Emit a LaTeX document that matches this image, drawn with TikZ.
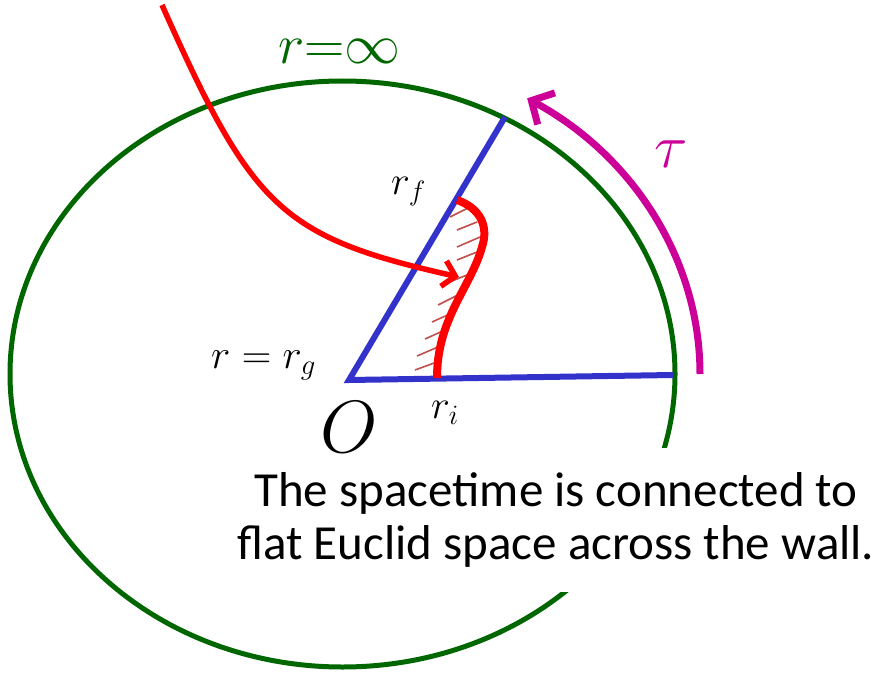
\RequirePackage{fix-cm}
\documentclass[tikz,border=0pt]{standalone}
\usepackage{fontspec}
\newfontfamily\calib{Carlito}
\usetikzlibrary{arrows.meta}
\definecolor{wallgreen}{RGB}{0,102,0}
\definecolor{rayblue}{RGB}{51,51,204}
\definecolor{taumag}{RGB}{204,0,153}
\definecolor{hatchred}{RGB}{192,80,77}
\newcommand{\fsz}[1]{\fontsize{#1}{#1}\selectfont}
\tikzset{
  wall/.style={draw=wallgreen, line width=5pt},
  ray/.style={draw=rayblue, line width=6pt, line join=miter},
  path/.style={draw=red, line width=5.5pt, -{Straight Barb[length=12pt,width=26pt]}},
  shell/.style={draw=red, line width=8pt},
  hatch/.style={draw=hatchred, line width=1.6pt},
  tauarrow/.style={draw=taumag, line width=7pt, -{Straight Barb[length=17pt,width=36pt]}},
  lab/.style={inner sep=0pt, anchor=base west},
}
\begin{document}
\begin{tikzpicture}[x=1pt,y=-1pt]
\useasboundingbox (0,0) rectangle (875,674);
% outer boundary r = infinity
\draw[wall] (342.5,374) ellipse[x radius=332.5, y radius=293];
% text with white background
\node[fill=white, minimum width=630pt, minimum height=144pt, align=center,
      font=\calib\fontsize{49}{53}\selectfont, inner sep=0pt] (txt) at (556,520)
  {The spacetime is connected to\\flat Euclid space across the wall.};
% blue rays
\coordinate (O) at (349,380);
\coordinate (A) at (673,375);
\coordinate (B) at (505,117);
\draw[ray] (B) -- (O) -- (A);
% hatches
\foreach \xa/\ya/\xb/\yb in {468/208/450/217, 477/222/457/230, 480/237/457/247,
   477/252/457/260, 467/275/447/283, 458/295/438/305, 452/313/432/322,
   445/330/425/339, 438/347/417/356, 437/362/415/370}
  \draw[hatch] (\xa,\ya) -- (\xb,\yb);
% shell (wall) curve
\coordinate (wtop) at (457,200);
\coordinate (wbot) at (437,378);
\draw[shell] (wtop) .. controls (480,208) and (489,226) .. (482,247)
   .. controls (471,287) and (437,318) .. (wbot);
% incoming path
\coordinate (start) at (162,5);
\coordinate (tip) at (459,277);
\draw[path] (start) .. controls (252,207) and (280,237) .. (tip);
% tau arrow
\coordinate (tau0) at (700,374);
\draw[tauarrow] (tau0) arc[start angle=0, end angle=-58.9, x radius=357.5, y radius=322];
% labels
\node[lab, text=wallgreen] (rinf) at (278,64) {\fsz{56}$r{=}\infty$};
\node[lab, text=taumag] (tau) at (654,167) {\fsz{62}$\tau$};
\node[lab] (rf) at (391,194) {\fsz{40}$r_{f}$};
\node[lab] (rg) at (211,368) {\fsz{41}$r = r_g$};
\node[lab] (Olab) at (320,452) {\fsz{74}$O$};
\node[lab] (ri) at (431,418) {\fsz{40}$r_i$};
\end{tikzpicture}
\end{document}
